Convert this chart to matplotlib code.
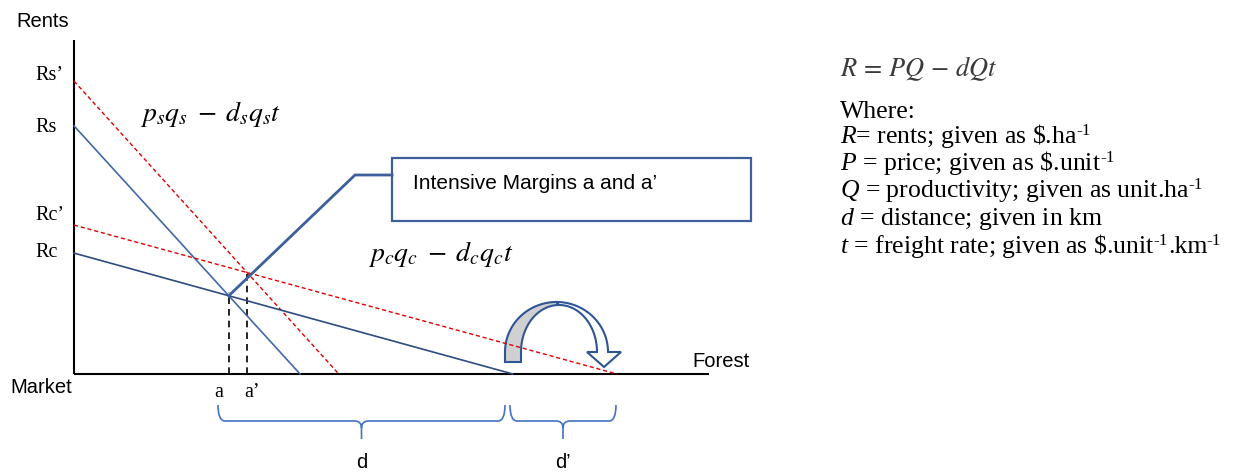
import numpy as np
import matplotlib
matplotlib.use("Agg")
import matplotlib.pyplot as plt
from matplotlib.patches import Polygon, Rectangle, PathPatch
from matplotlib.path import Path

plt.rcParams['mathtext.fontset'] = 'custom'
plt.rcParams['mathtext.rm'] = 'Liberation Serif'
plt.rcParams['mathtext.it'] = 'Liberation Serif:italic'
plt.rcParams['mathtext.bf'] = 'Liberation Serif:bold'

# ---------------- data ----------------
curve_labels = ["Rs\u2019", "Rs", "Rc\u2019", "Rc"]
rent_at_market = [87.7, 74.3, 44.6, 36.2]        # rent at distance 0
zero_rent_distance = [41.7, 35.6, 85.5, 69.1]    # distance where rent = 0
margin_labels = ["a", "a\u2019"]
bracket_labels = ["d", "d\u2019"]
equation_s = r"$p_s q_s\;-\;d_s q_s t$"
equation_c = r"$p_c q_c\;-\;d_c q_c t$"
callout_text = "Intensive Margins a and a\u2019"
legend_header = r"$R\,=\,PQ\,-\,dQt$"
# each legend line: list of (text, is_superscript)
legend_lines = [
    [("Where:", False)],
    [(r"$R$= rents; given as \$.ha", False), ("-1", True)],
    [(r"$P$ = price; given as \$.unit", False), ("-1", True)],
    [(r"$Q$ = productivity; given as unit.ha", False), ("-1", True)],
    [(r"$d$ = distance; given in km", False)],
    [(r"$t$ = freight rate; given as \$.unit", False), ("-1", True), (".km", False), ("-1", True)],
]

# ---------------- styles / layout ----------------
curve_colors = ["#E00000", "#4169AA", "#E00000", "#2F4B80"]
curve_dashed = [True, False, True, False]
label_baseline_px = [80, 132, 220, 257]
legend_baseline_px = [118, 143, 170, 197, 225, 253]
W, H = 1247, 473
X0_PX, X100_PX, Y0_PX, Y100_PX = 74, 709, 374, 40
SANS = "Liberation Sans"
SERIF = "Liberation Serif"
BLUE = "#3E5E9C"


def X(px):
    return (np.asarray(px, dtype=float) - X0_PX) * 100.0 / (X100_PX - X0_PX)


def Y(py):
    return (Y0_PX - np.asarray(py, dtype=float)) * 100.0 / (Y0_PX - Y100_PX)


fig = plt.figure(figsize=(W / 100, H / 100), dpi=100)
ax = fig.add_axes([0, 0, 1, 1])
ax.set_xlim(X(0), X(W))
ax.set_ylim(Y(H), Y(0))
ax.axis("off")

# axes
ax.plot([0, 0], [0, 100], color="black", lw=1.5, solid_capstyle="butt", zorder=3)
ax.plot([0, 100], [0, 0], color="black", lw=1.5, solid_capstyle="butt", zorder=3)

# rent curves
for lab, r0, dz, col, dash, yb in zip(curve_labels, rent_at_market, zero_rent_distance,
                                      curve_colors, curve_dashed, label_baseline_px):
    if dash:
        ax.plot([0, dz], [r0, 0], color=col, lw=1.0, dashes=(3, 2), zorder=4)
    else:
        ax.plot([0, dz], [r0, 0], color=col, lw=1.2, zorder=4)
    ax.text(X(35), Y(yb), lab, family=SERIF, fontsize=14.5, ha="left", va="baseline")


def cross(i, j):
    si = -rent_at_market[i] / zero_rent_distance[i]
    sj = -rent_at_market[j] / zero_rent_distance[j]
    x = (rent_at_market[j] - rent_at_market[i]) / (si - sj)
    return x, rent_at_market[i] + si * x


a_pt = cross(1, 3)
a2_pt = cross(0, 2)
for (xx, yy), lab, lx in zip([a_pt, a2_pt], margin_labels, [219, 252]):
    ax.plot([xx, xx], [0, yy + 1.0], color="black", lw=1.2, dashes=(4, 3), zorder=3)
    ax.text(X(lx), Y(397), lab, family=SERIF, fontsize=14.5, ha="center", va="baseline")

# callout
ax.plot([a_pt[0], X(355), X(392)], [a_pt[1], Y(175), Y(175)], color=BLUE, lw=2, zorder=5,
        solid_joinstyle="miter")
ax.add_patch(Rectangle((X(392), Y(221)), X(751) - X(392), Y(158) - Y(221),
                       fill=False, ec=BLUE, lw=1.6, zorder=5))
ax.text(X(413), Y(189), callout_text, family=SANS, fontsize=15, ha="left", va="baseline")

# equations
ax.text(X(140), Y(121), equation_s, fontsize=20, math_fontfamily="stix", ha="left", va="baseline")
ax.text(X(368), Y(261), equation_c, fontsize=20, math_fontfamily="stix", ha="left", va="baseline")

# axis labels
ax.text(X(16), Y(27), "Rents", family=SANS, fontsize=14.5, ha="left", va="baseline")
ax.text(X(10), Y(393), "Market", family=SANS, fontsize=14.5, ha="left", va="baseline")
ax.text(X(692), Y(367), "Forest", family=SANS, fontsize=14.5, ha="left", va="baseline")


# braces
def brace(x0, x1, ytop=405, ymid=421, ytip=439, r=7):
    xm = (x0 + x1) / 2.0
    pts = [(x0, ytop), (x0, ymid), (x0 + r, ymid), (xm - r, ymid), (xm, ymid), (xm, ymid + r),
           (xm, ytip),
           (x1, ytop), (x1, ymid), (x1 - r, ymid), (xm + r, ymid), (xm, ymid), (xm, ymid + r)]
    codes = [Path.MOVETO, Path.CURVE3, Path.CURVE3, Path.LINETO, Path.CURVE3, Path.CURVE3,
             Path.LINETO,
             Path.MOVETO, Path.CURVE3, Path.CURVE3, Path.LINETO, Path.CURVE3, Path.CURVE3]
    pts = np.array(pts, dtype=float)
    verts = np.column_stack([X(pts[:, 0]), Y(pts[:, 1])])
    ax.add_patch(PathPatch(Path(verts, codes), fill=False, ec="#4472C4", lw=1.2))


brace(218, 505)
brace(510, 616)
ax.text(X(362), Y(468), bracket_labels[0], family=SANS, fontsize=14.5, ha="center", va="baseline")
ax.text(X(563), Y(468), bracket_labels[1], family=SANS, fontsize=14.5, ha="center", va="baseline")


# curved arrow
def ell(cx, cy, rx, ry, t0, t1, n=50):
    t = np.radians(np.linspace(t0, t1, n))
    return cx + rx * np.cos(t), cy - ry * np.sin(t)


ox1, oy1 = ell(556.5, 352, 51.5, 50, 180, 90)
ix1, iy1 = ell(559, 352, 38, 47, 90, 180)
grey_x = np.concatenate([[505], ox1, ix1, [521]])
grey_y = np.concatenate([[362], oy1, iy1, [362]])
ax.add_patch(Polygon(np.column_stack([X(grey_x), Y(grey_y)]), closed=True,
                     fc="#D0D0D0", ec="#2F5597", lw=1.5, zorder=2))
ox2, oy2 = ell(556.5, 352, 51.5, 50, 90, 0)
ix2, iy2 = ell(559, 352, 38, 47, 0, 90)
wx = np.concatenate([ox2, [621, 604, 587], ix2])
wy = np.concatenate([oy2, [352, 367, 352], iy2])
ax.add_patch(Polygon(np.column_stack([X(wx), Y(wy)]), closed=True,
                     fc="white", ec="#2F5597", lw=1.5, zorder=2))

# legend block on the right
ax.text(X(840), Y(76), legend_header, fontsize=19, math_fontfamily="stix", color="#3A3A3A",
        ha="left", va="baseline")
renderer = fig.canvas.get_renderer()
for segments, yb in zip(legend_lines, legend_baseline_px):
    x_px = 840.0
    for seg, sup in segments:
        if sup:
            t = ax.text(X(x_px - 1.0), Y(yb - 8), seg, family=SERIF, fontsize=12.5,
                        ha="left", va="baseline")
        else:
            t = ax.text(X(x_px), Y(yb), seg, family=SERIF, fontsize=18.5,
                        ha="left", va="baseline")
        bb = t.get_window_extent(renderer)
        x_px = bb.x1

fig.savefig("out.png", dpi=100)
